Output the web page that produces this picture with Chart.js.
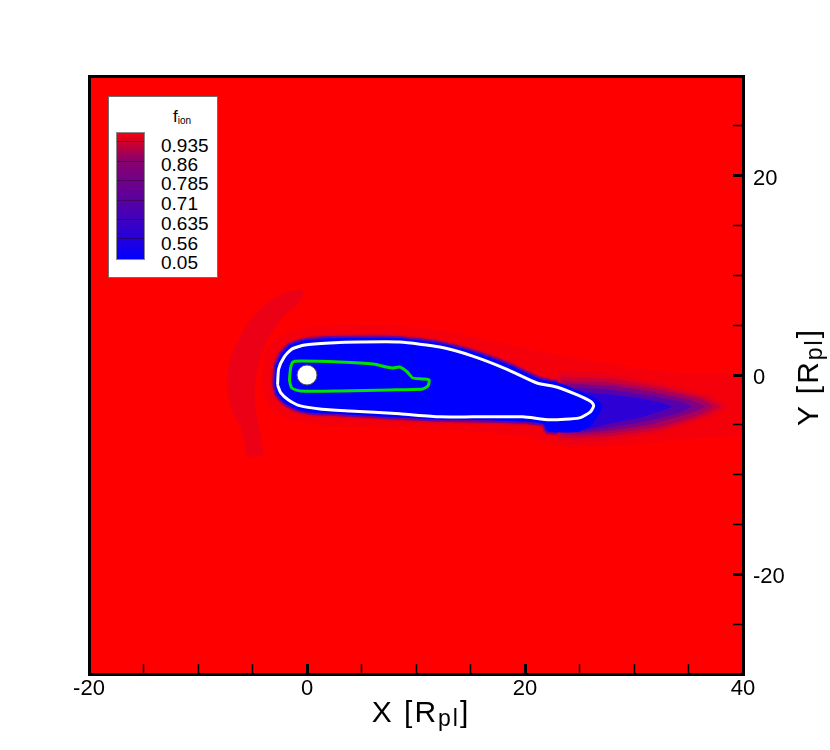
<!DOCTYPE html>
<html>
<head>
<meta charset="utf-8">
<script src="https://cdn.jsdelivr.net/npm/chart.js@4.4.1/dist/chart.umd.min.js"></script>
<style>
  body { margin: 0; background: #fff; }
  #wrap { position: relative; width: 830px; height: 750px; font-family: 'Liberation Sans', Arial, sans-serif; color: #000; }
  #c { position: absolute; left: 0; top: 0; }
  .legend { position: absolute; left: 108px; top: 96px; width: 110px; height: 182px; background: #fff; border: 1px solid #6f6f6f; box-sizing: border-box; }
  .ftitle { position: absolute; left: 173px; top: 108px; font-size: 17px; line-height: 17px; white-space: nowrap; }
  .ftitle sub { font-size: 10px; vertical-align: -2px; line-height: 0; }
  .cbar { position: absolute; left: 116px; top: 132px; width: 29px; height: 128px; box-sizing: border-box; border: 1px solid #8a8a8a;
    background: linear-gradient(to bottom, rgb(245,0,15) 0%, rgb(212,0,42) 7%, rgb(170,0,80) 15%, rgb(138,0,108) 22%,
      rgb(115,0,135) 37%, rgb(90,0,160) 53%, rgb(64,0,190) 68%, rgb(38,0,218) 83%, rgb(0,0,255) 100%); }
  .cline { position: absolute; left: 0; width: 100%; height: 1px; background: rgba(40,0,50,0.55); }
  .lev { position: absolute; left: 161px; font-size: 19px; line-height: 20px; white-space: nowrap; }
  .axtitle { position: absolute; font-size: 30px; line-height: 30px; letter-spacing: 2px; white-space: nowrap; }
  .axtitle sub { font-size: 23px; vertical-align: -4px; line-height: 0; }
  #xtitle { left: 421px; top: 697px; transform: translateX(-50%); }
  #ytitle { left: 808px; top: 377px; transform: translate(-50%, -50%) rotate(-90deg); }
</style>
</head>
<body>
<div id="wrap">
  <canvas id="c" width="830" height="750"></canvas>
  <div class="legend"></div>
  <div class="ftitle">f<sub>ion</sub></div>
  <div class="cbar" id="cbar"></div>
  <div id="levels"></div>
  <div class="axtitle" id="xtitle">X [R<sub>pl</sub>]</div>
  <div class="axtitle" id="ytitle">Y [R<sub>pl</sub>]</div>
</div>
<script>
// axes
const xRange = [-20, 40];
const yRange = [-30, 30];
const tickStep = 5;
const labelStep = 20;

// colour legend levels of f_ion
const levelLabels = ['0.935', '0.86', '0.785', '0.71', '0.635', '0.56', '0.05'];

// field regions, [X, Y] in R_pl
const domain = [[-20, -30], [40, -30], [40, 30], [-20, 30]];
const wakeRegion = [[-4.1, 0.4], [-3.8, 2.4], [-2.7, 3.8], [-1.0, 4.6], [2.1, 5.0], [8.5, 4.9], [13.1, 4.4], [17.7, 3.3],
  [23.2, 2.0], [28.7, 1.0], [34.2, 0.2], [40, -0.3], [40, -5.7], [34.2, -6.5], [28.7, -7.1], [24.1, -7.3], [19.5, -6.1],
  [13.1, -5.5], [8.5, -5.3], [2.1, -5.1], [-1.6, -4.5], [-3.4, -3.3], [-4.1, -1.5]];
const bowRegion = [[-0.5, 8.6], [-1.9, 8.3], [-3.6, 7.3], [-5.0, 5.8], [-6.2, 3.8], [-7.1, 1.4], [-7.3, -1.0], [-7.0, -3.3],
  [-6.1, -5.3], [-5.7, -7.0], [-5.5, -8.1], [-4.1, -8.1], [-4.2, -6.3], [-4.6, -4.3], [-4.8, -2.3], [-4.7, -0.3],
  [-4.2, 2.0], [-3.4, 4.0], [-2.2, 5.8], [-0.9, 7.1], [-0.3, 8.0]];
const tail935 = [[23.0, 0.35], [27.8, 0.15], [32.4, -0.75], [37.0, -2.06], [38.6, -3.16], [37.0, -4.26], [32.4, -5.77],
  [27.8, -6.57], [24.6, -6.77], [23.0, -6.57]];
const tail86 = [[23.2, -0.15], [27.8, -0.35], [32.4, -1.15], [36.5, -2.26], [38.0, -3.16], [36.5, -4.06], [32.4, -5.47],
  [27.8, -6.17], [24.6, -6.37], [23.2, -6.27]];
const tail785 = [[23.4, -0.55], [27.8, -0.75], [32.4, -1.45], [36.1, -2.36], [37.3, -3.16], [36.1, -3.96], [32.4, -5.17],
  [27.8, -5.87], [24.6, -6.07], [23.4, -5.97]];
const tail71 = [[23.7, -0.85], [27.8, -1.05], [31.5, -1.65], [35.1, -2.46], [36.5, -3.16], [35.1, -3.86], [31.5, -4.96],
  [27.8, -5.57], [25.0, -5.87], [23.7, -5.77]];
const tail635 = [[24.6, -1.25], [27.8, -1.45], [31.5, -2.06], [34.2, -2.66], [35.3, -3.16], [34.2, -3.76], [31.5, -4.56],
  [27.8, -5.27], [25.5, -5.67], [24.6, -5.67]];
const tail56 = [[25.0, -1.65], [27.8, -1.96], [30.6, -2.36], [32.4, -2.76], [33.5, -3.16], [32.4, -3.66], [30.6, -4.26],
  [27.8, -4.86], [26.0, -5.37], [24.9, -5.57]];
const blueRegion = [[-3.0, -1.0], [-2.9, 0.8], [-2.4, 2.1], [-1.6, 3.0], [-0.2, 3.5], [2.1, 3.7], [8.5, 3.7], [12.2, 3.2],
  [15.4, 2.3], [18.6, 1.0], [21.4, -0.4], [23.2, -0.8], [25.0, -1.6], [26.6, -2.4], [27.1, -3.1], [26.7, -4.1],
  [26.0, -5.1], [24.9, -5.7], [22.1, -5.7], [21.6, -4.9], [17.7, -4.6], [12.2, -4.5], [8.5, -4.3], [3.9, -4.0],
  [0.3, -3.8], [-1.1, -3.4], [-2.2, -2.7], [-2.8, -1.9]];

// contour lines
const whiteContour = [[-2.7, -1.0], [-2.6, 0.6], [-2.1, 1.8], [-1.4, 2.6], [-0.2, 3.0], [2.1, 3.2], [4.9, 3.3], [8.5, 3.3],
  [12.2, 2.8], [15.2, 1.9], [18.3, 0.6], [21.1, -0.8], [22.9, -1.2], [24.8, -2.0], [26.1, -2.7], [26.3, -3.1],
  [26.0, -3.7], [25.0, -4.3], [22.3, -4.5], [19.8, -4.2], [15.2, -4.2], [12.2, -4.2], [8.5, -3.9], [3.9, -3.6],
  [1.2, -3.4], [-0.6, -3.1], [-1.7, -2.5], [-2.4, -1.8]];
const greenContour = [[-1.5, 0.8], [-1.3, 1.3], [-0.6, 1.4], [3.0, 1.3], [6.1, 1.1], [7.3, 0.8], [7.9, 0.7], [8.5, 0.8],
  [9.2, 0.3], [9.7, -0.3], [10.6, -0.4], [11.2, -0.5], [11.1, -1.1], [10.6, -1.4], [7.6, -1.5], [3.0, -1.6],
  [-0.6, -1.6], [-1.4, -1.3], [-1.6, -0.5]];
const planet = [[0, 0]];

const pts = arr => arr.map(([x, y]) => ({ x, y }));
const closed = arr => pts(arr.concat([arr[0]]));

function region(label, arr, color, tension) {
  return {
    label, data: pts(arr), showLine: true, fill: 'shape', backgroundColor: color,
    borderColor: 'rgba(0,0,0,0)', borderWidth: 0, pointRadius: 0, tension
  };
}
function outline(label, arr, color, width) {
  return {
    label, data: closed(arr), showLine: true, fill: false, borderColor: color,
    borderWidth: width, pointRadius: 0, tension: 0.2
  };
}

// bottom to top
const layers = [
  region('domain', domain, '#ff0000', 0),
  region('wake', wakeRegion, 'rgb(245,0,10)', 0.2),
  region('bow', bowRegion, 'rgb(235,0,21)', 0.2),
  outline('edge outer', blueRegion, 'rgb(215,0,45)', 7),
  outline('edge inner', blueRegion, 'rgb(115,0,145)', 4),
  region('0.935', tail935, 'rgb(232,0,26)', 0.1),
  region('0.86', tail86, 'rgb(205,0,54)', 0.1),
  region('0.785', tail785, 'rgb(168,0,92)', 0.1),
  region('0.71', tail71, 'rgb(128,0,132)', 0.1),
  region('0.635', tail635, 'rgb(88,0,172)', 0.1),
  region('0.56', tail56, 'rgb(45,0,214)', 0.1),
  region('0.05', blueRegion, '#0000ff', 0.2),
  outline('white contour', whiteContour, '#ffffff', 3),
  outline('green contour', greenContour, 'rgb(0,225,0)', 3),
  {
    label: 'planet', data: pts(planet), pointRadius: 10, pointBackgroundColor: '#ffffff',
    pointBorderColor: '#555555', pointBorderWidth: 1
  }
];
layers.forEach((d, i) => { d.order = layers.length - i; });

const tickFont = { family: "'Liberation Sans', Arial, sans-serif", size: 22 };
const tickWidth = c => (c.tick && c.tick.value % labelStep === 0 ? 3 : 1.5);
// frame and tick marks are drawn above the field
const frame = { display: true, width: 3, color: '#000', z: 2 };
const tickGrid = { drawOnChartArea: false, drawTicks: true, tickLength: -10, tickColor: '#000', tickWidth, z: 1 };
const bareGrid = { drawOnChartArea: false, drawTicks: false, z: 1 };

new Chart(document.getElementById('c'), {
  type: 'scatter',
  data: { datasets: layers },
  options: {
    responsive: false,
    animation: false,
    events: [],
    layout: { padding: { left: 89, top: 76, right: 0, bottom: 0 } },
    plugins: { legend: { display: false }, tooltip: { enabled: false } },
    scales: {
      x: {
        type: 'linear', position: 'bottom', min: xRange[0], max: xRange[1],
        afterFit: s => { s.height = 76; },
        border: frame,
        grid: tickGrid,
        ticks: {
          stepSize: tickStep, maxTicksLimit: 30, autoSkip: false, maxRotation: 0, padding: 12,
          color: '#000', font: tickFont, callback: v => (v % labelStep === 0 ? String(v) : '')
        }
      },
      y: {
        type: 'linear', position: 'right', min: yRange[0], max: yRange[1],
        afterFit: s => { s.width = 87; },
        border: frame,
        grid: tickGrid,
        ticks: {
          stepSize: tickStep, maxTicksLimit: 30, autoSkip: false, padding: 20, labelOffset: 3,
          color: '#000', font: tickFont, callback: v => (v % labelStep === 0 ? String(v) : '')
        }
      },
      xTop: {
        type: 'linear', position: 'top', axis: 'x', min: xRange[0], max: xRange[1],
        afterFit: s => { s.height = 0; },
        border: frame, grid: bareGrid, ticks: { display: false }
      },
      yLeft: {
        type: 'linear', position: 'left', axis: 'y', min: yRange[0], max: yRange[1],
        afterFit: s => { s.width = 0; },
        border: frame, grid: bareGrid, ticks: { display: false }
      }
    }
  }
});

// colour legend: band separators and level labels
const cbar = document.getElementById('cbar');
[9, 29, 48, 68, 87, 106].forEach(y => {
  const l = document.createElement('div');
  l.className = 'cline';
  l.style.top = (y - 1) + 'px';
  cbar.appendChild(l);
});
const levelTops = [135.5, 154.5, 173.5, 193.5, 213.5, 233.5, 252.5];
const levels = document.getElementById('levels');
levelLabels.forEach((t, i) => {
  const d = document.createElement('div');
  d.className = 'lev';
  d.style.top = levelTops[i] + 'px';
  d.textContent = t;
  levels.appendChild(d);
});
</script>
</body>
</html>
